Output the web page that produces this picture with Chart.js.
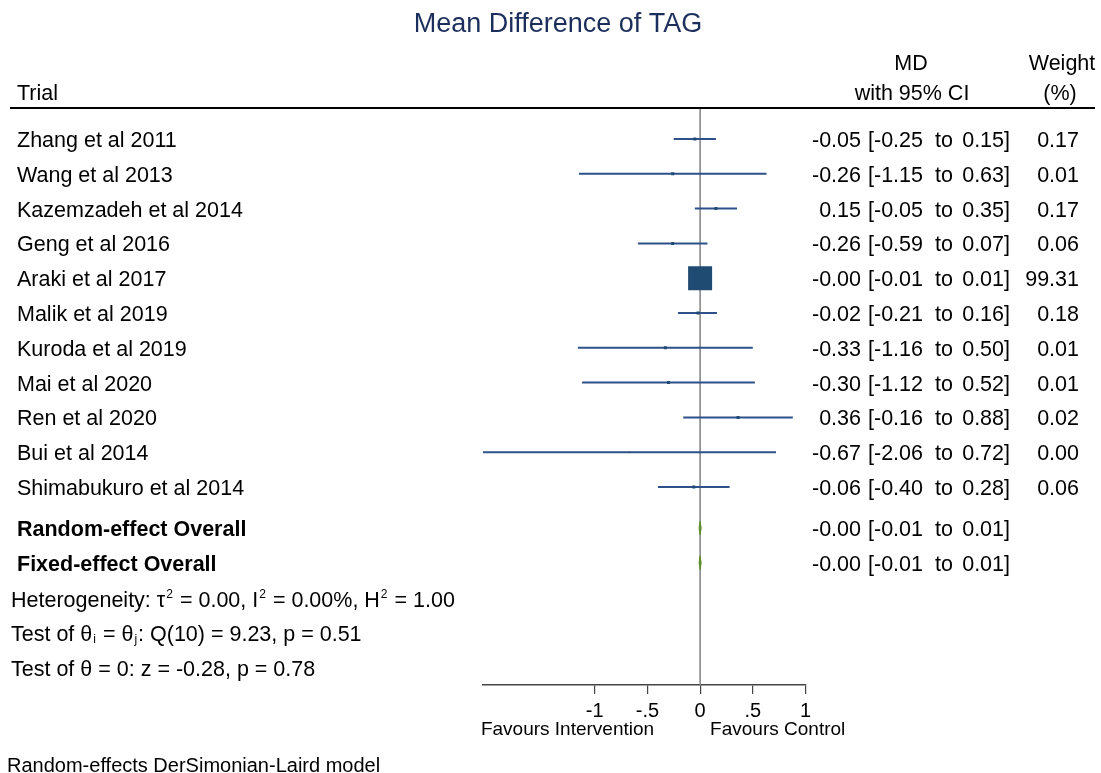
<!DOCTYPE html>
<html>
<head>
<meta charset="utf-8">
<script src="https://cdn.jsdelivr.net/npm/chart.js@4.4.0/dist/chart.umd.min.js"></script>
<style>
html, body { margin: 0; padding: 0; background: #fff; }
#wrap { width: 1101px; height: 773px; }
</style>
</head>
<body>
<div id="wrap"><canvas id="grafico" width="1101" height="773"></canvas></div>
<script>
// Dados
const estudos = ["Zhang et al 2011", "Wang et al 2013", "Kazemzadeh et al 2014", "Geng et al 2016",
  "Araki et al 2017", "Malik et al 2019", "Kuroda et al 2019", "Mai et al 2020", "Ren et al 2020",
  "Bui et al 2014", "Shimabukuro et al 2014"];
const md = [-0.05, -0.26, 0.15, -0.26, -0.00, -0.02, -0.33, -0.30, 0.36, -0.67, -0.06];
const ciInf = [-0.25, -1.15, -0.05, -0.59, -0.01, -0.21, -1.16, -1.12, -0.16, -2.06, -0.40];
const ciSup = [0.15, 0.63, 0.35, 0.07, 0.01, 0.16, 0.50, 0.52, 0.88, 0.72, 0.28];
const pesos = [0.17, 0.01, 0.17, 0.06, 99.31, 0.18, 0.01, 0.01, 0.02, 0.00, 0.06];

const globais = ["Random-effect Overall", "Fixed-effect Overall"];
const mdGlobal = [-0.00, -0.00];
const ciInfGlobal = [-0.01, -0.01];
const ciSupGlobal = [0.01, 0.01];

const ticksX = [-1, -0.5, 0, 0.5, 1];
const tickLabels = ["-1", "-.5", "0", ".5", "1"];

// Texto das estatísticas: [texto, tipo] (n = normal, sup = expoente, sub = índice)
const estatisticas = [
  [["Heterogeneity: \u03C4", "n"], ["2", "sup"], [" = 0.00, I", "n"], ["2", "sup"], [" = 0.00%, H", "n"], ["2", "sup"], [" = 1.00", "n"]],
  [["Test of \u03B8", "n"], ["i", "sub"], [" = \u03B8", "n"], ["j", "sub"], [": Q(10) = 9.23, p = 0.51", "n"]],
  [["Test of \u03B8 = 0: z = -0.28, p = 0.78", "n"]]
];

// Layout
const FONTE = "'Liberation Sans', Arial, Helvetica, sans-serif";
const TAM = 21.5;
const Y_MIN = -0.89, Y_MAX = 15.69;
const linhasGlobais = [11.18, 12.18];
const linhasEstat = [13.22, 14.19, 15.19];
const AZUL = '#2f5189';
const QUADRADO = '#1f4a72';
const VERDE = '#5e8f2b';

function fmt(v) {
  const neg = v < 0 || Object.is(v, -0);
  return (neg ? '-' : '') + Math.abs(v).toFixed(2);
}

function ladoQuadrado(w) {
  if (w <= 0) return 1.5;
  return Math.max(3, 24 * Math.sqrt(w / 99.31));
}

// Datasets
const datasets = [];

// linha vertical no zero
datasets.push({
  data: [{ x: 0, y: Y_MIN }, { x: 0, y: Y_MAX }],
  showLine: true, borderColor: '#808080', borderWidth: 1.5, pointRadius: 0, order: 4
});

// intervalos de confiança
estudos.forEach((nome, i) => {
  datasets.push({
    data: [{ x: ciInf[i], y: i }, { x: ciSup[i], y: i }],
    showLine: true, borderColor: AZUL, borderWidth: 2, pointRadius: 0, order: 3
  });
});

// quadrados (peso)
datasets.push({
  data: md.map((v, i) => ({ x: v, y: i })),
  pointStyle: 'rect',
  pointRadius: pesos.map(w => ladoQuadrado(w) / Math.SQRT2),
  backgroundColor: QUADRADO, borderWidth: 0, order: 2
});

// losangos globais
globais.forEach((nome, k) => {
  const y = linhasGlobais[k];
  datasets.push({
    data: [
      { x: ciInfGlobal[k], y: y }, { x: mdGlobal[k], y: y - 0.2 },
      { x: ciSupGlobal[k], y: y }, { x: mdGlobal[k], y: y + 0.2 }, { x: ciInfGlobal[k], y: y }
    ],
    showLine: true, borderColor: VERDE, backgroundColor: VERDE, borderWidth: 1,
    pointRadius: 0, fill: 'shape', tension: 0, order: 1
  });
});

function desenharRico(ctx, partes, x, y) {
  let cx = x;
  partes.forEach(([t, tipo]) => {
    if (tipo === 'n') {
      ctx.font = TAM + 'px ' + FONTE;
      ctx.fillText(t, cx, y);
    } else {
      ctx.font = '12px ' + FONTE;
      ctx.fillText(t, cx + 1, tipo === 'sup' ? y - 9 : y + 2);
    }
    cx += ctx.measureText(t).width + (tipo === 'n' ? 0 : 2);
  });
}

const textos = {
  id: 'textos',
  afterDraw(chart) {
    const ctx = chart.ctx;
    const ys = chart.scales.y;
    const xs = chart.scales.x;
    ctx.save();
    ctx.textBaseline = 'alphabetic';

    // título
    ctx.font = '27px ' + FONTE;
    ctx.fillStyle = '#1c2f5c';
    ctx.textAlign = 'center';
    ctx.fillText('Mean Difference of TAG', 558, 32);

    // cabeçalhos
    ctx.fillStyle = '#000';
    ctx.font = TAM + 'px ' + FONTE;
    ctx.textAlign = 'left';
    ctx.fillText('Trial', 17, 100);
    ctx.textAlign = 'center';
    ctx.fillText('MD', 911, 70);
    ctx.fillText('with 95% CI', 912, 100);
    ctx.fillText('Weight', 1062, 70);
    ctx.fillText('(%)', 1060, 100);

    // linha do cabeçalho
    ctx.strokeStyle = '#000';
    ctx.lineWidth = 2;
    ctx.beginPath();
    ctx.moveTo(10, 108);
    ctx.lineTo(1095, 108);
    ctx.stroke();

    function colunas(y, est, lo, hi, peso) {
      ctx.font = TAM + 'px ' + FONTE;
      ctx.textAlign = 'right';
      ctx.fillText(fmt(est), 861, y);
      ctx.fillText('[' + fmt(lo), 923, y);
      ctx.textAlign = 'center';
      ctx.fillText('to', 944, y);
      ctx.textAlign = 'right';
      ctx.fillText(fmt(hi) + ']', 1010, y);
      if (peso !== null) ctx.fillText(peso.toFixed(2), 1079, y);
    }

    // estudos
    estudos.forEach((nome, i) => {
      const y = ys.getPixelForValue(i) + 8;
      ctx.font = TAM + 'px ' + FONTE;
      ctx.textAlign = 'left';
      ctx.fillText(nome, 17, y);
      colunas(y, md[i], ciInf[i], ciSup[i], pesos[i]);
    });

    // globais
    globais.forEach((nome, k) => {
      const y = ys.getPixelForValue(linhasGlobais[k]) + 8;
      ctx.font = 'bold ' + TAM + 'px ' + FONTE;
      ctx.textAlign = 'left';
      ctx.fillText(nome, 17, y);
      colunas(y, mdGlobal[k], ciInfGlobal[k], ciSupGlobal[k], null);
    });

    // estatísticas
    ctx.textAlign = 'left';
    estatisticas.forEach((partes, k) => {
      const y = ys.getPixelForValue(linhasEstat[k]) + 8;
      desenharRico(ctx, partes, 11, y);
    });

    // legendas do eixo
    const x0 = xs.getPixelForValue(0);
    ctx.font = '19px ' + FONTE;
    ctx.textAlign = 'right';
    ctx.fillText('Favours Intervention', x0 - 46, 735);
    ctx.textAlign = 'left';
    ctx.fillText('Favours Control', x0 + 10, 735);

    // rodapé
    ctx.font = '20px ' + FONTE;
    ctx.fillText('Random-effects DerSimonian-Laird model', 7, 772);
    ctx.restore();
  }
};

new Chart(document.getElementById('grafico'), {
  type: 'scatter',
  data: { datasets: datasets },
  options: {
    responsive: false,
    animation: false,
    layout: { padding: { left: 483, right: 295.5, top: 108, bottom: 38 } },
    scales: {
      x: {
        type: 'linear', min: -2.06, max: 1,
        afterBuildTicks: s => { s.ticks = ticksX.map(v => ({ value: v })); },
        afterFit: s => { s.height = 50; },
        ticks: {
          callback: (v, i) => tickLabels[i],
          font: { family: FONTE, size: 20 }, color: '#000',
          padding: 5, maxRotation: 0, autoSkip: false
        },
        grid: { drawOnChartArea: false, tickLength: 9, color: '#444', lineWidth: 1.2 },
        border: { color: '#444', width: 1.5 }
      },
      y: { type: 'linear', display: false, reverse: true, min: Y_MIN, max: Y_MAX }
    },
    plugins: { legend: { display: false }, tooltip: { enabled: false } }
  },
  plugins: [textos]
});
</script>
</body>
</html>
